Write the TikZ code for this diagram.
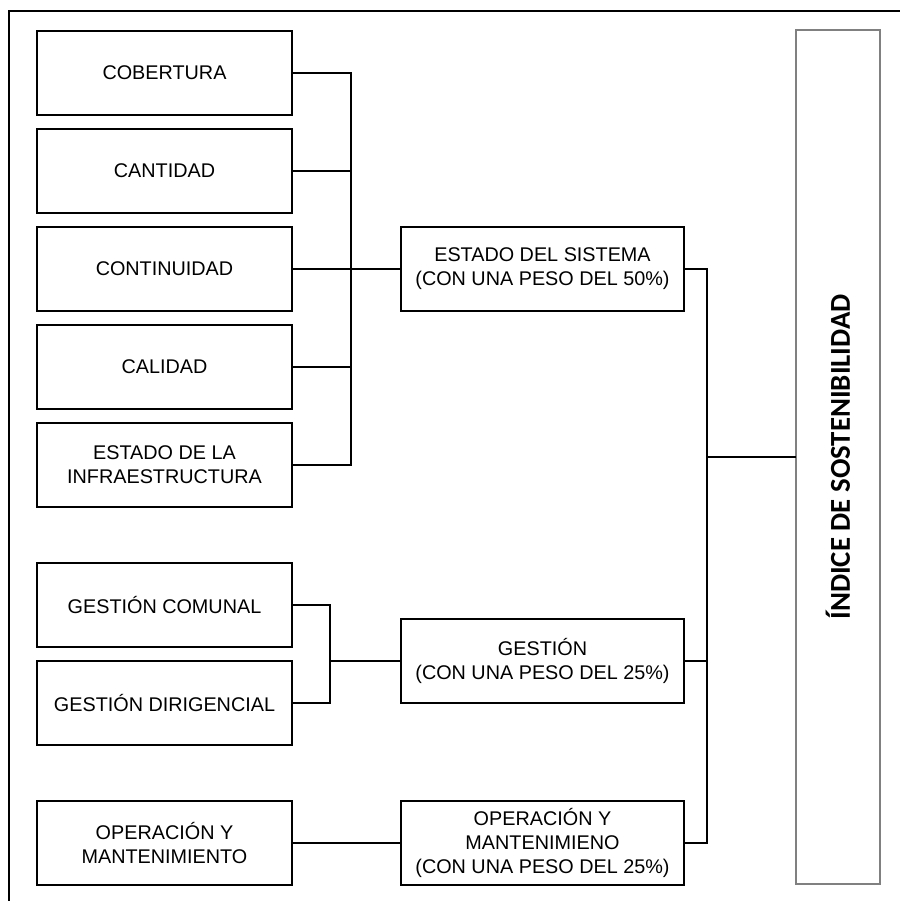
\documentclass[tikz,border=0pt]{standalone}
\usepackage{fontspec}
\setmainfont{Liberation Sans}
\newfontfamily\titlefont{Carlito}
\usetikzlibrary{positioning}
\tikzset{
  item/.style={rectangle, draw=black, line width=0.9pt, minimum width=127.5pt, minimum height=42pt, align=center, inner sep=2pt, outer sep=0pt},
  group/.style={rectangle, draw=black, line width=0.9pt, minimum width=141.5pt, minimum height=42pt, align=center, inner sep=2pt, outer sep=0pt},
  index/.style={rectangle, draw=black!50, line width=1.3pt, minimum width=427pt, minimum height=42pt, outer sep=0pt, font=\titlefont\bfseries\fontsize{14.4}{16}\selectfont},
  link/.style={line width=0.7pt}
}

\begin{document}
\begin{tikzpicture}[x=0.5pt, y=-0.5pt, node distance=7pt, font=\fontsize{9.9}{12}\selectfont]
\useasboundingbox (0,0) rectangle (900,901);

% Frame
\draw[line width=0.6pt] (9,901) -- (9,11) -- (900,11);

% Estado del sistema
\node (cob) [item] at (164.5,73) {COBERTURA};
\node (cant) [item, below=of cob] {CANTIDAD};
\node (cont) [item, below=of cant] {CONTINUIDAD};
\node (cal) [item, below=of cont] {CALIDAD};
\node (inf) [item, below=of cal] {ESTADO DE LA\\INFRAESTRUCTURA};
\node (est) [group] at (542.5,269) {ESTADO DEL SISTEMA\\(CON UNA PESO DEL 50\%)};

% Gestion
\node (gcom) [item] at (164.5,605) {GESTIÓN COMUNAL};
\node (gdir) [item, below=of gcom] {GESTIÓN DIRIGENCIAL};
\node (ges) [group] at (542.5,661) {GESTIÓN\\(CON UNA PESO DEL 25\%)};

% Operacion
\node (opm) [item] at (164.5,843) {OPERACIÓN Y\\MANTENIMIENTO};
\node (ope) [group, right=54.5pt of opm] {OPERACIÓN Y\\MANTENIMIENO\\(CON UNA PESO DEL 25\%)};

% Indice
\node (ind) [index, rotate=90] at (838,457) {ÍNDICE DE SOSTENIBILIDAD};

% Connectors
\coordinate (busA) at (351,269);
\coordinate (busB) at (330,661);
\coordinate (busC) at (707,457);

\draw[link] (cob.east) -| (busA) |- (inf.east);
\draw[link] (cant.east) -- (cant.east -| busA);
\draw[link] (cal.east) -- (cal.east -| busA);
\draw[link] (cont) -- (est);

\draw[link] (gcom.east) -| (busB) |- (gdir.east);
\draw[link] (busB) -- (ges.west);

\draw[link] (opm) -- (ope);

\draw[link] (est.east) -| (busC) |- (ope.east);
\draw[link] (ges.east) -- (ges.east -| busC);
\draw[link] (busC) -- (ind.north);

\end{tikzpicture}
\end{document}
